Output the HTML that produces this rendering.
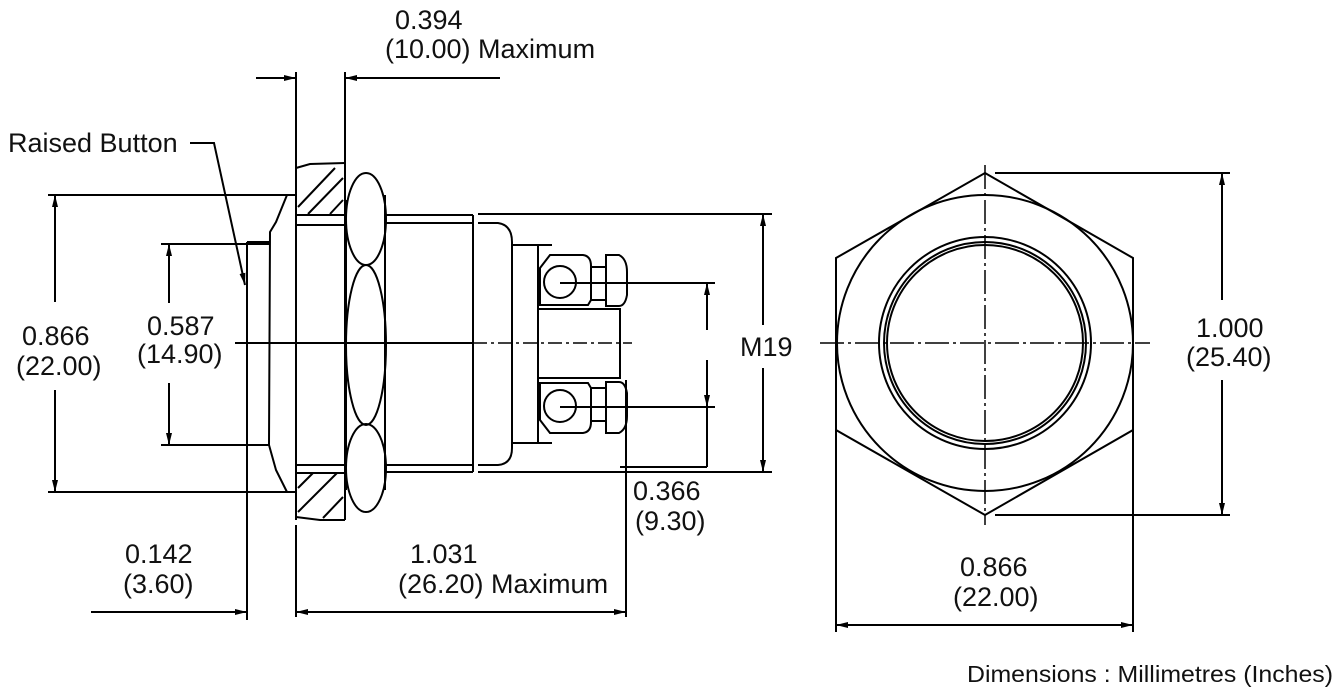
<!DOCTYPE html>
<html><head><meta charset="utf-8"><style>
html,body{margin:0;padding:0;background:#fff;}
svg{display:block;}
text{font-family:"Liberation Sans",Arial,sans-serif;font-size:27px;fill:#111;}
</style></head><body>
<svg width="1337" height="691" viewBox="0 0 1337 691" xmlns="http://www.w3.org/2000/svg">
<defs>
<marker id="a" viewBox="0 0 12 6" refX="12" refY="3" markerWidth="12" markerHeight="6" markerUnits="userSpaceOnUse" orient="auto"><path d="M0,0 L12,3 L0,6 Z" fill="#000"/></marker>
</defs>
<g stroke="#000" stroke-width="2" fill="none">
<line x1="296" y1="72" x2="296" y2="163"/>
<line x1="345" y1="72" x2="345" y2="163"/>
<line x1="256" y1="78" x2="296" y2="78" marker-end="url(#a)"/>
<line x1="500" y1="78" x2="345" y2="78" marker-end="url(#a)"/>
<polyline points="190,143 214,143 245,285" marker-end="url(#a)"/>
<line x1="48" y1="195" x2="296" y2="195"/>
<line x1="48" y1="492" x2="296" y2="492"/>
<line x1="55" y1="302" x2="55" y2="195" marker-end="url(#a)"/>
<line x1="55" y1="390" x2="55" y2="492" marker-end="url(#a)"/>
<line x1="161" y1="244" x2="269" y2="244"/>
<line x1="161" y1="445" x2="269" y2="445"/>
<line x1="169" y1="303" x2="169" y2="244" marker-end="url(#a)"/>
<line x1="169" y1="383" x2="169" y2="445" marker-end="url(#a)"/>
<line x1="247" y1="242" x2="247" y2="620"/>
<line x1="247" y1="242" x2="269" y2="242"/>
<path d="M287,195 L276,222 L270,232 L269,445 L276,470 L287,492"/>
<line x1="296" y1="163" x2="296" y2="520"/>
<line x1="345" y1="163" x2="345" y2="520"/>
<path d="M296,168 L310,164 L345,163"/>
<path d="M296,517 L320,520 L345,520"/>
<line x1="296" y1="215" x2="345" y2="215"/>
<line x1="296" y1="225" x2="345" y2="225"/>
<line x1="296" y1="465" x2="345" y2="465"/>
<line x1="296" y1="473" x2="345" y2="473"/>
<line x1="298" y1="207" x2="335" y2="168"/>
<line x1="308" y1="214" x2="343" y2="178"/>
<line x1="330" y1="214" x2="343" y2="200"/>
<line x1="298" y1="488" x2="313" y2="473"/>
<line x1="298" y1="512" x2="337" y2="473"/>
<line x1="323" y1="518" x2="343" y2="497"/>
<ellipse cx="366" cy="219" rx="20" ry="46"/>
<ellipse cx="366" cy="345" rx="20" ry="80"/>
<ellipse cx="366" cy="468" rx="20" ry="44"/>
<line x1="346" y1="200" x2="346" y2="490"/>
<line x1="385" y1="195" x2="385" y2="490"/>
<line x1="385" y1="215" x2="473" y2="215"/>
<line x1="385" y1="223" x2="473" y2="223"/>
<line x1="385" y1="465" x2="473" y2="465"/>
<line x1="385" y1="472" x2="473" y2="472"/>
<line x1="473" y1="215" x2="473" y2="472"/>
<path d="M478,223 L498,223 Q512,225 512,242 L512,448 Q512,464 498,465 L478,465"/>
<line x1="478" y1="214" x2="772" y2="214"/>
<line x1="478" y1="472" x2="772" y2="472"/>
<line x1="512" y1="245" x2="552" y2="245"/>
<line x1="512" y1="443" x2="552" y2="443"/>
<line x1="538" y1="245" x2="538" y2="443"/>
<path d="M550,255 L583,255 Q591,256 591,266 L591,300 L588,305 L540,305 L540,268 Z"/>
<circle cx="560" cy="282" r="16"/>
<rect x="591" y="267" width="15" height="33"/>
<path d="M606,255 L619,255 Q627,259 627,272 L627,295 Q625,306 619,306 L606,306 Z"/>
<rect x="538" y="309" width="82" height="69"/>
<path d="M550,433 L583,433 Q591,432 591,422 L591,388 L588,383 L540,383 L540,420 Z"/>
<circle cx="560" cy="406" r="16"/>
<rect x="591" y="388" width="15" height="33"/>
<path d="M606,433 L619,433 Q627,429 627,416 L627,393 Q625,382 619,382 L606,382 Z"/>
<line x1="235" y1="343" x2="473" y2="343"/>
<line x1="473" y1="343" x2="632" y2="343" stroke-width="1.5" stroke-dasharray="14,4,3,4"/>
<line x1="560" y1="283" x2="715" y2="283"/>
<line x1="560" y1="407" x2="715" y2="407"/>
<line x1="707" y1="330" x2="707" y2="283" marker-end="url(#a)"/>
<line x1="707" y1="360" x2="707" y2="407" marker-end="url(#a)"/>
<line x1="707" y1="407" x2="707" y2="467"/>
<line x1="620" y1="467" x2="707" y2="467"/>
<line x1="626" y1="380" x2="626" y2="617"/>
<line x1="763" y1="325" x2="763" y2="214" marker-end="url(#a)"/>
<line x1="763" y1="368" x2="763" y2="472" marker-end="url(#a)"/>
<line x1="296" y1="525" x2="296" y2="617"/>
<line x1="91" y1="612" x2="247" y2="612" marker-end="url(#a)"/>
<line x1="460" y1="612" x2="296" y2="612" marker-end="url(#a)"/>
<line x1="460" y1="612" x2="626" y2="612" marker-end="url(#a)"/>
<polygon points="985,173 1133,258 1133,430 985,515 836,430 836,258"/>
<circle cx="985" cy="343" r="148"/>
<circle cx="985" cy="343" r="106"/>
<circle cx="985" cy="343" r="101"/>
<circle cx="985" cy="343" r="98"/>
<line x1="820" y1="343" x2="1150" y2="343" stroke-width="1.5" stroke-dasharray="24,4,3,4"/>
<line x1="985" y1="165" x2="985" y2="525" stroke-width="1.5" stroke-dasharray="24,4,3,4"/>
<line x1="995" y1="173" x2="1230" y2="173"/>
<line x1="995" y1="515" x2="1230" y2="515"/>
<line x1="1222" y1="300" x2="1222" y2="173" marker-end="url(#a)"/>
<line x1="1222" y1="380" x2="1222" y2="515" marker-end="url(#a)"/>
<line x1="836" y1="430" x2="836" y2="632"/>
<line x1="1133" y1="430" x2="1133" y2="632"/>
<line x1="985" y1="625" x2="836" y2="625" marker-end="url(#a)"/>
<line x1="985" y1="625" x2="1133" y2="625" marker-end="url(#a)"/>
</g>
<text x="395" y="29">0.394</text>
<text x="385" y="58">(10.00) Maximum</text>
<text x="8" y="152">Raised Button</text>
<text x="22" y="345">0.866</text>
<text x="16" y="375">(22.00)</text>
<text x="147" y="335">0.587</text>
<text x="137" y="363">(14.90)</text>
<text x="740" y="356">M19</text>
<text x="1196" y="337">1.000</text>
<text x="1186" y="366">(25.40)</text>
<text x="633" y="500">0.366</text>
<text x="635" y="530">(9.30)</text>
<text x="125" y="563">0.142</text>
<text x="123" y="593">(3.60)</text>
<text x="410" y="563">1.031</text>
<text x="398" y="593">(26.20) Maximum</text>
<text x="960" y="576">0.866</text>
<text x="953" y="606">(22.00)</text>
<text x="967" y="682" style="font-size:23px" textLength="366" lengthAdjust="spacingAndGlyphs">Dimensions : Millimetres (Inches)</text>
</svg>
</body></html>
